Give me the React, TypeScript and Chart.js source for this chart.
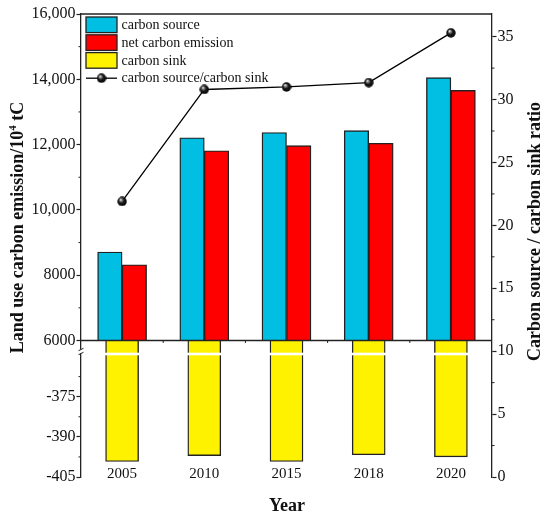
import { useEffect, useRef } from 'react';
import { Chart, registerables } from 'chart.js';

Chart.register(...registerables);

// values
const years = ['2005', '2010', '2015', '2018', '2020'];
const carbonSource = [8710, 12210, 12370, 12430, 14050];
const netEmission = [8320, 11810, 11970, 12040, 13660];
const carbonSink = [-399.2, -397.0, -399.2, -396.7, -397.5];
const sourceSinkRatio = [21.9, 30.8, 31.0, 31.35, 35.3];

// broken left axis: upper part for emissions, lower part for the sink
const upperMin = 6000;
const upperMax = 16000;
const upperTicks = [6000, 8000, 10000, 12000, 14000, 16000];
const upperTickLabels = ['6000', '8000', '10,000', '12,000', '14,000', '16,000'];
const upperMinorTicks = [7000, 9000, 11000, 13000, 15000];

const lowerMin = -405;
const lowerMax = -354;
const lowerTicks = [-405, -390, -375];
const lowerMinorTicks = [-397.5, -382.5, -367.5];

const ratioMin = 0;
const ratioMax = 36.8;
const ratioTicks = [0, 5, 10, 15, 20, 25, 30, 35];
const ratioMinorTicks = [2.5, 7.5, 12.5, 17.5, 22.5, 27.5, 32.5];

const serif = '"Liberation Serif", "Times New Roman", serif';
const axisColor = '#222';
const textColor = '#111';

// shaded black sphere used as the line marker
const makeBall = (size: number) => {
    const c = document.createElement('canvas');
    c.width = size;
    c.height = size;
    const g = c.getContext('2d')!;
    const r = size / 2;
    const grad = g.createRadialGradient(r * 0.7, r * 0.6, 0.2, r, r, r);
    grad.addColorStop(0, '#ffffff');
    grad.addColorStop(0.18, '#9a9a9a');
    grad.addColorStop(0.5, '#1a1a1a');
    grad.addColorStop(1, '#000');
    g.fillStyle = grad;
    g.beginPath();
    g.arc(r, r, r - 0.3, 0, Math.PI * 2);
    g.fill();
    return c;
};

const line = (ctx: CanvasRenderingContext2D, x1: number, y1: number, x2: number, y2: number) => {
    ctx.beginPath();
    ctx.moveTo(x1, y1);
    ctx.lineTo(x2, y2);
    ctx.stroke();
};

const decorPlugin = {
    id: 'decor',
    afterDatasetsDraw(chart: any) {
        const { ctx, chartArea: a, scales } = chart;
        const { x, yTop, yBot, yR } = scales;
        ctx.save();

        // white break stripe across the sink bars
        const breakY = yBot.top + 13.5;
        ctx.fillStyle = '#fff';
        chart.getDatasetMeta(2).data.forEach((bar: any) => {
            ctx.fillRect(bar.x - bar.width / 2 - 1, breakY - 1.3, bar.width + 2, 2.6);
        });

        ctx.strokeStyle = axisColor;
        ctx.lineWidth = 1.3;
        // baseline at 6000 and top frame
        line(ctx, a.left, yTop.bottom, a.right, yTop.bottom);
        line(ctx, a.left, a.top, a.right, a.top);

        // small ticks between categories on the baseline
        ctx.lineWidth = 1;
        for (let i = 1; i < years.length; i++) {
            const px = (x.getPixelForValue(i - 1) + x.getPixelForValue(i)) / 2;
            line(ctx, px, yTop.bottom, px, yTop.bottom + 2.5);
        }

        // minor ticks
        upperMinorTicks.forEach(v => {
            const py = yTop.getPixelForValue(v);
            line(ctx, a.left - 2.5, py, a.left, py);
        });
        lowerMinorTicks.forEach(v => {
            const py = yBot.getPixelForValue(v);
            line(ctx, a.left - 2.5, py, a.left, py);
        });
        ratioMinorTicks.forEach(v => {
            const py = yR.getPixelForValue(v);
            line(ctx, a.right, py, a.right + 2.5, py);
        });

        // break marks on the left axis
        const g1 = yBot.top + 9;
        const g2 = yBot.top + 13;
        ctx.fillStyle = '#fff';
        ctx.fillRect(a.left - 3, g1, 6, g2 - g1);
        ctx.lineWidth = 1;
        line(ctx, a.left - 2.5, g1 + 1.2, a.left + 2.5, g1 - 1.2);
        line(ctx, a.left - 2.5, g2 + 1.2, a.left + 2.5, g2 - 1.2);

        // category labels sit just inside the bottom of the plot
        ctx.font = `15px ${serif}`;
        ctx.fillStyle = textColor;
        ctx.textAlign = 'center';
        ctx.textBaseline = 'alphabetic';
        chart.data.labels.forEach((lab: string, i: number) => {
            ctx.fillText(lab, x.getPixelForValue(i), a.bottom + 1.3);
        });

        ctx.restore();
    },
    afterDraw(chart: any) {
        const { ctx } = chart;
        ctx.save();

        // legend inside the plot
        const rowY = 24.8;
        const pitch = 17.8;
        ctx.font = `14px ${serif}`;
        ctx.textBaseline = 'middle';
        chart.data.datasets.forEach((ds: any, i: number) => {
            const cy = rowY + pitch * i;
            if (ds.type === 'bar') {
                ctx.fillStyle = ds.backgroundColor;
                ctx.fillRect(86, cy - 7.8, 31, 15.6);
                ctx.strokeStyle = axisColor;
                ctx.lineWidth = 1.3;
                ctx.strokeRect(86, cy - 7.8, 31, 15.6);
            } else {
                ctx.strokeStyle = '#000';
                ctx.lineWidth = 1.3;
                line(ctx, 86, cy, 117, cy);
                const img = ds.pointStyle;
                ctx.drawImage(img, 101.5 - img.width / 2, cy - img.height / 2);
            }
            ctx.fillStyle = textColor;
            ctx.textAlign = 'left';
            ctx.fillText(ds.label, 121.5, cy + 0.5);
        });

        // axis titles
        ctx.fillStyle = textColor;
        ctx.textBaseline = 'alphabetic';
        const bold = (s: number) => `bold ${s}px ${serif}`;

        ctx.save();
        ctx.translate(22.5, 227.5);
        ctx.rotate(-Math.PI / 2);
        const parts = [
            { t: 'Land use carbon emission/10', f: bold(18), dy: 0 },
            { t: '4', f: bold(11), dy: -7 },
            { t: ' tC', f: bold(18), dy: 0 },
        ];
        let total = 0;
        parts.forEach(p => { ctx.font = p.f; total += ctx.measureText(p.t).width; });
        let cx = -total / 2;
        ctx.textAlign = 'left';
        parts.forEach(p => {
            ctx.font = p.f;
            ctx.fillText(p.t, cx, p.dy);
            cx += ctx.measureText(p.t).width;
        });
        ctx.restore();

        ctx.save();
        ctx.translate(540, 231.5);
        ctx.rotate(-Math.PI / 2);
        ctx.font = bold(18);
        ctx.textAlign = 'center';
        ctx.fillText('Carbon source / carbon sink ratio', 0, 0);
        ctx.restore();

        ctx.font = bold(18);
        ctx.textAlign = 'center';
        ctx.fillText('Year', 287, 511);

        ctx.restore();
    },
};

const App = () => {
    const canvasRef = useRef<HTMLCanvasElement | null>(null);
    const chartRef = useRef<Chart | null>(null);

    useEffect(() => {
        if (!canvasRef.current) return;
        if (chartRef.current) chartRef.current.destroy();

        const ball = makeBall(10);
        const tickFont = { family: serif, size: 16 };
        const yGrid = { drawOnChartArea: false, tickLength: 4.5, tickColor: axisColor, tickWidth: 1.2 };
        const yBorder = { color: axisColor, width: 1.3 };

        chartRef.current = new Chart(canvasRef.current, {
            type: 'bar',
            data: {
                labels: years,
                datasets: [
                    {
                        type: 'bar',
                        label: 'carbon source',
                        data: carbonSource,
                        yAxisID: 'yTop',
                        base: upperMin,
                        backgroundColor: '#00BFE3',
                        borderColor: axisColor,
                        borderWidth: 1.4,
                        barThickness: 24.5,
                    },
                    {
                        type: 'bar',
                        label: 'net carbon emission',
                        data: netEmission,
                        yAxisID: 'yTop',
                        base: upperMin,
                        backgroundColor: '#FF0000',
                        borderColor: axisColor,
                        borderWidth: 1.4,
                        barThickness: 24.5,
                    },
                    {
                        type: 'bar',
                        label: 'carbon sink',
                        data: carbonSink,
                        yAxisID: 'yBot',
                        base: lowerMax,
                        grouped: false,
                        backgroundColor: '#FFF200',
                        borderColor: axisColor,
                        borderWidth: 1.4,
                        barThickness: 33,
                    },
                    {
                        type: 'line',
                        label: 'carbon source/carbon sink',
                        data: sourceSinkRatio,
                        yAxisID: 'yR',
                        order: -1,
                        borderColor: '#000',
                        borderWidth: 1.3,
                        pointStyle: ball,
                        pointRadius: 5,
                        tension: 0,
                    },
                ],
            } as any,
            options: {
                animation: false,
                responsive: true,
                maintainAspectRatio: false,
                layout: { padding: { top: 14, left: 0, right: 0, bottom: 0 } },
                plugins: {
                    legend: { display: false },
                    tooltip: { enabled: false },
                },
                scales: {
                    x: {
                        type: 'category',
                        position: 'bottom',
                        offset: true,
                        grid: { display: false, drawTicks: false },
                        border: { display: false },
                        ticks: { display: false },
                        afterFit: (s: any) => { s.height = 40; },
                    },
                    yBot: {
                        type: 'linear',
                        position: 'left',
                        stack: 'left',
                        stackWeight: 136.6,
                        min: lowerMin,
                        max: lowerMax,
                        afterBuildTicks: (s: any) => { s.ticks = lowerTicks.map(v => ({ value: v })); },
                        ticks: { font: tickFont, color: textColor, padding: 1, autoSkip: false, callback: (v: any) => String(v) },
                        grid: yGrid,
                        border: yBorder,
                        afterFit: (s: any) => { s.width = 81; },
                    },
                    yTop: {
                        type: 'linear',
                        position: 'left',
                        stack: 'left',
                        stackWeight: 326.7,
                        min: upperMin,
                        max: upperMax,
                        afterBuildTicks: (s: any) => { s.ticks = upperTicks.map(v => ({ value: v })); },
                        ticks: {
                            font: tickFont,
                            color: textColor,
                            padding: 1,
                            autoSkip: false,
                            callback: (v: any) => upperTickLabels[upperTicks.indexOf(v)],
                        },
                        grid: yGrid,
                        border: yBorder,
                        afterFit: (s: any) => { s.width = 81; },
                    },
                    yR: {
                        type: 'linear',
                        position: 'right',
                        min: ratioMin,
                        max: ratioMax,
                        afterBuildTicks: (s: any) => { s.ticks = ratioTicks.map(v => ({ value: v })); },
                        ticks: { font: tickFont, color: textColor, padding: 1, autoSkip: false, callback: (v: any) => String(v) },
                        grid: yGrid,
                        border: yBorder,
                        afterFit: (s: any) => { s.width = 58; },
                    },
                },
            } as any,
            plugins: [decorPlugin],
        });

        return () => { if (chartRef.current) chartRef.current.destroy(); };
    }, []);

    return (
        <div style={{ position: 'absolute', left: 0, top: 0, width: 550, height: 517, background: '#fff' }}>
            <canvas ref={canvasRef}></canvas>
        </div>
    );
};

export default App;
